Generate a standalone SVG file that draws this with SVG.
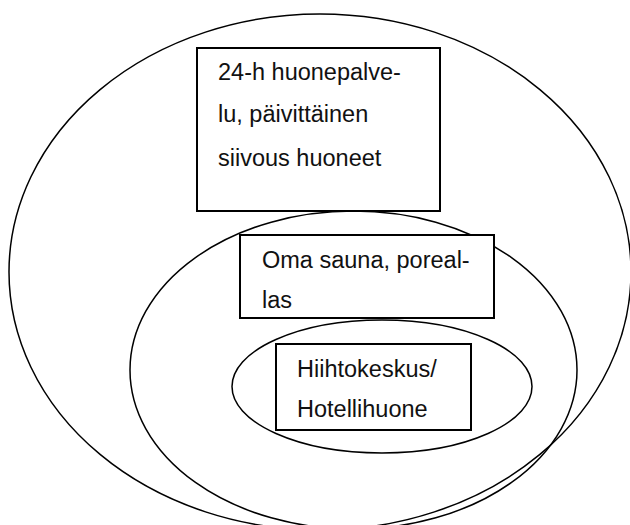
<svg xmlns="http://www.w3.org/2000/svg" width="630" height="525" viewBox="0 0 630 525">
<style>
.ring{fill:none;stroke:#000;stroke-width:1.5}
.box{fill:#fff;stroke:#000;stroke-width:2}
.lbl{font-family:"Liberation Sans",Arial,sans-serif;font-size:23.5px;fill:#111}
</style>
<rect width="630" height="525" fill="#fff"/>
<g id="rings">
<ellipse id="outer" class="ring" cx="320" cy="272" rx="311" ry="258"/>
<ellipse id="middle" class="ring" cx="353.5" cy="370" rx="223.5" ry="159"/>
<ellipse id="inner" class="ring" cx="382" cy="386.5" rx="150" ry="66.5"/>
</g>
<g id="node-room-service">
<rect class="box" x="197" y="48" width="243" height="163"/>
<text class="lbl" x="218" y="80">24-h huonepalve-</text>
<text class="lbl" x="218" y="122">lu, päivittäinen</text>
<text class="lbl" x="218" y="166">siivous huoneet</text>
</g>
<g id="node-sauna">
<rect class="box" x="240" y="235" width="254" height="83"/>
<text class="lbl" x="262" y="268">Oma sauna, poreal-</text>
<text class="lbl" x="262" y="308">las</text>
</g>
<g id="node-hotel">
<rect class="box" x="276" y="344" width="195" height="86"/>
<text class="lbl" x="297" y="377">Hiihtokeskus/</text>
<text class="lbl" x="297" y="417">Hotellihuone</text>
</g>
<g id="connectors"/>
</svg>
